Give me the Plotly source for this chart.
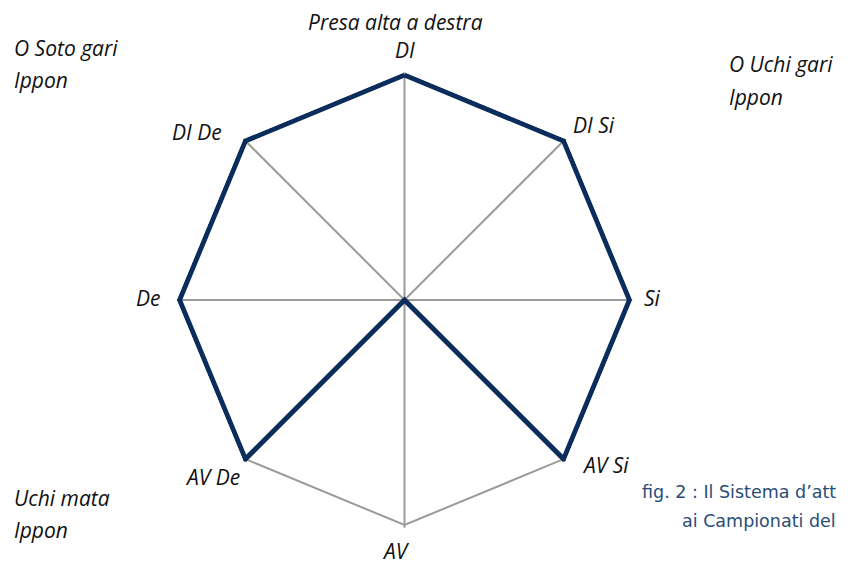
import plotly.graph_objects as go

# axes of the radar, clockwise from top
directions = ["DI", "DI Si", "Si", "AV Si", "AV", "AV De", "De", "DI De"]
attacks = [1, 1, 1, 1, 0, 1, 1, 1]
outer = [1] * len(directions)

title_text = "Presa alta a destra"
corner_notes = [["O Soto gari", "Ippon"], ["O Uchi gari", "Ippon"], ["Uchi mata", "Ippon"]]
caption = ["fig. 2 : Il Sistema d\u2019att", "ai Campionati del"]

W, H = 848, 565
OFF = 8  # the page body margin moves the plot by 8px
navy = "#0b2d5c"
grey = "#9a9a9a"
label_font = dict(family="Open Sans", size=21, color="#111111", style="italic")

# window pixel spots of the labels (centre x, centre y)
label_pos = [(405, 50), (594, 125), (652, 298), (605, 465),
             (396, 551), (212, 477), (148, 298), (197, 132)]
corner_pos = [(12, 48, 80), (727, 64, 97), (12, 498, 530)]


def px(x, y):
    return (x - OFF) / W, 1 - (y - OFF) / H


def closed(v):
    return list(v) + list(v[:1])


fig = go.Figure()
# outer octagon drawn as a trace so the thick line is not clipped at the edge
fig.add_trace(go.Scatterpolar(
    r=closed(outer), theta=closed(directions), mode="lines",
    line=dict(color=grey, width=2), hoverinfo="skip",
))
fig.add_trace(go.Scatterpolar(
    r=closed(attacks), theta=closed(directions), mode="lines",
    line=dict(color=navy, width=5), hoverinfo="skip",
))

rmax = 1.012
cx, cy, rad = 404.5 - OFF, 300 - OFF, 225 * rmax
fig.update_layout(
    width=W, height=H,
    margin=dict(l=0, r=0, t=0, b=0),
    paper_bgcolor="white",
    showlegend=False,
    polar=dict(
        domain=dict(x=[(cx - rad) / W, (cx + rad) / W],
                    y=[1 - (cy + rad) / H, 1 - (cy - rad) / H]),
        bgcolor="white",
        gridshape="linear",
        radialaxis=dict(visible=False, range=[0, rmax]),
        angularaxis=dict(
            rotation=90, direction="clockwise",
            showline=False,
            showgrid=True, gridcolor=grey, gridwidth=1.5,
            ticks="", showticklabels=False,
        ),
    ),
)

for name, (x, y) in zip(directions, label_pos):
    ax, ay = px(x, y)
    fig.add_annotation(text=name, x=ax, y=ay, xref="paper", yref="paper", showarrow=False,
                       font=label_font, xanchor="center", yanchor="middle")

tx, ty = px(395, 22)
fig.add_annotation(text=title_text, x=tx, y=ty, xref="paper", yref="paper",
                   showarrow=False, font=label_font, xanchor="center", yanchor="middle")

for lines, (x, y1, y2) in zip(corner_notes, corner_pos):
    for txt, y in zip(lines, (y1, y2)):
        ax, ay = px(x, y)
        fig.add_annotation(text=txt, x=ax, y=ay, xref="paper", yref="paper", showarrow=False,
                           font=label_font, xanchor="left", yanchor="middle")

cap_font = dict(family="DejaVu Sans", size=17.5, color="#2a4d78")
for txt, (x, y) in zip(caption, [(640, 492), (680, 521)]):
    ax, ay = px(x, y)
    fig.add_annotation(text=txt, x=ax, y=ay, xref="paper", yref="paper", showarrow=False,
                       xanchor="left", yanchor="middle", font=cap_font)

fig.write_html("out.html")
